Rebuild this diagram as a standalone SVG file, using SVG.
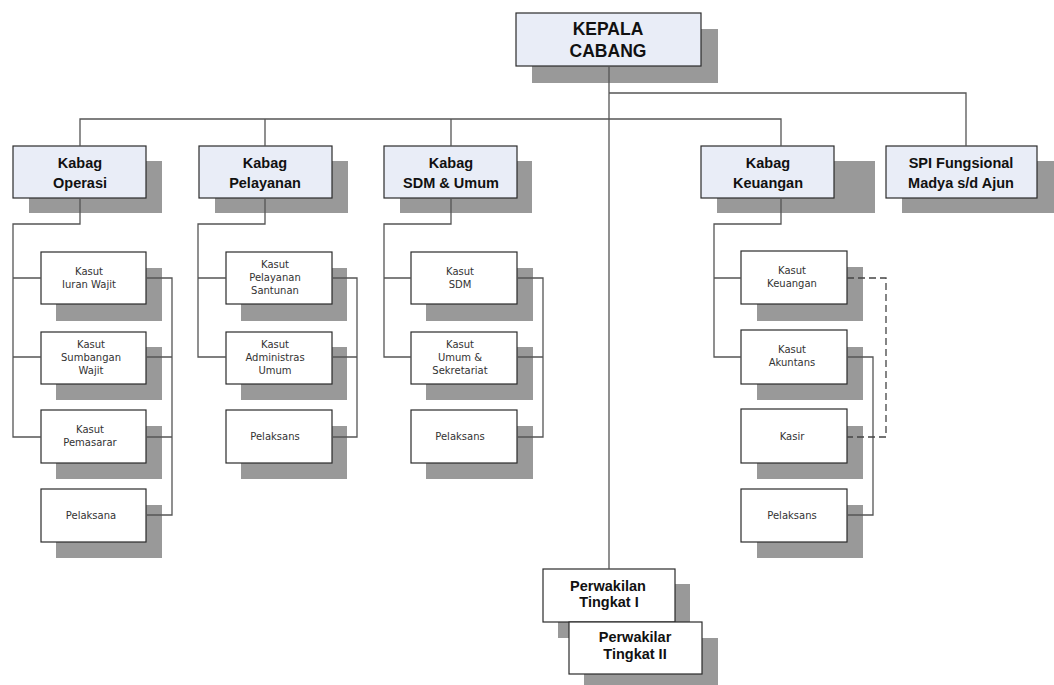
<svg xmlns="http://www.w3.org/2000/svg" width="1054" height="685" viewBox="0 0 1054 685">
<style>
.sh{fill:#999999}
.hd{fill:#e9edf7;stroke:#2b2b2b;stroke-width:1.2}
.bx{fill:#ffffff;stroke:#2b2b2b;stroke-width:1.2}
.t1{font-family:"Liberation Sans",Arial,sans-serif;font-weight:bold;font-size:17.5px;fill:#111;text-anchor:middle}
.t2{font-family:"Liberation Sans",Arial,sans-serif;font-weight:bold;font-size:14.5px;fill:#111;text-anchor:middle}
.t3{font-family:"DejaVu Sans",Verdana,sans-serif;font-size:10px;fill:#333;text-anchor:middle}
.ln{fill:none;stroke:#555;stroke-width:1.3}
.dl{fill:none;stroke:#444;stroke-width:1.3;stroke-dasharray:7 4}
</style>
<rect width="1054" height="685" fill="#fff"/>
<g id="kepala"><rect class="sh" x="532" y="29" width="186" height="54"/><rect class="hd" x="516" y="13" width="185" height="53"/><text class="t1" x="608" y="35">KEPALA</text><text class="t1" x="608" y="57">CABANG</text></g>
<g id="kabag-operasi"><rect class="sh" x="29" y="161" width="133" height="52"/><rect class="hd" x="13" y="146" width="133" height="52"/><text class="t2" x="80" y="168">Kabag</text><text class="t2" x="80" y="188">Operasi</text></g>
<g id="kabag-pelayanan"><rect class="sh" x="215" y="161" width="133" height="52"/><rect class="hd" x="199" y="146" width="133" height="52"/><text class="t2" x="265" y="168">Kabag</text><text class="t2" x="265" y="188">Pelayanan</text></g>
<g id="kabag-sdm"><rect class="sh" x="400" y="161" width="132" height="52"/><rect class="hd" x="384" y="146" width="133" height="52"/><text class="t2" x="451" y="168">Kabag</text><text class="t2" x="451" y="188">SDM &amp; Umum</text></g>
<g id="kabag-keuangan"><rect class="sh" x="717" y="161" width="158" height="52"/><rect class="hd" x="701" y="146" width="133" height="52"/><text class="t2" x="768" y="168">Kabag</text><text class="t2" x="768" y="188">Keuangan</text></g>
<g id="spi"><rect class="sh" x="902" y="161" width="152" height="52"/><rect class="hd" x="886" y="146" width="151" height="52"/><text class="t2" x="961" y="168">SPI Fungsional</text><text class="t2" x="961" y="188">Madya s/d Ajun</text></g>

<g id="op1"><rect class="sh" x="56" y="268" width="106" height="53"/><rect class="bx" x="41" y="252" width="105" height="52"/><text class="t3" x="89" y="275">Kasut</text><text class="t3" x="89" y="288">Iuran Wajit</text></g>
<g id="op2"><rect class="sh" x="56" y="347" width="106" height="53"/><rect class="bx" x="41" y="332" width="105" height="52"/><text class="t3" x="91" y="348">Kasut</text><text class="t3" x="91" y="361">Sumbangan</text><text class="t3" x="91" y="374">Wajit</text></g>
<g id="op3"><rect class="sh" x="56" y="426" width="106" height="53"/><rect class="bx" x="41" y="410" width="105" height="53"/><text class="t3" x="90" y="433">Kasut</text><text class="t3" x="90" y="446">Pemasarar</text></g>
<g id="op4"><rect class="sh" x="56" y="505" width="106" height="53"/><rect class="bx" x="41" y="489" width="105" height="53"/><text class="t3" x="91" y="519">Pelaksana</text></g>

<g id="pl1"><rect class="sh" x="241" y="268" width="106" height="53"/><rect class="bx" x="226" y="252" width="106" height="52"/><text class="t3" x="275" y="268">Kasut</text><text class="t3" x="275" y="281">Pelayanan</text><text class="t3" x="275" y="294">Santunan</text></g>
<g id="pl2"><rect class="sh" x="241" y="347" width="106" height="53"/><rect class="bx" x="226" y="332" width="106" height="52"/><text class="t3" x="275" y="348">Kasut</text><text class="t3" x="275" y="361">Administras</text><text class="t3" x="275" y="374">Umum</text></g>
<g id="pl3"><rect class="sh" x="241" y="426" width="106" height="53"/><rect class="bx" x="226" y="410" width="106" height="53"/><text class="t3" x="275" y="440">Pelaksans</text></g>

<g id="sd1"><rect class="sh" x="426" y="268" width="107" height="53"/><rect class="bx" x="411" y="252" width="106" height="52"/><text class="t3" x="460" y="275">Kasut</text><text class="t3" x="460" y="288">SDM</text></g>
<g id="sd2"><rect class="sh" x="426" y="347" width="107" height="53"/><rect class="bx" x="411" y="332" width="106" height="52"/><text class="t3" x="460" y="348">Kasut</text><text class="t3" x="460" y="361">Umum &amp;</text><text class="t3" x="460" y="374">Sekretariat</text></g>
<g id="sd3"><rect class="sh" x="426" y="426" width="107" height="53"/><rect class="bx" x="411" y="410" width="106" height="53"/><text class="t3" x="460" y="440">Pelaksans</text></g>

<g id="ku1"><rect class="sh" x="757" y="267" width="106" height="54"/><rect class="bx" x="741" y="251" width="106" height="53"/><text class="t3" x="792" y="274">Kasut</text><text class="t3" x="792" y="287">Keuangan</text></g>
<g id="ku2"><rect class="sh" x="757" y="347" width="106" height="53"/><rect class="bx" x="741" y="330" width="106" height="54"/><text class="t3" x="792" y="353">Kasut</text><text class="t3" x="792" y="366">Akuntans</text></g>
<g id="ku3"><rect class="sh" x="757" y="426" width="106" height="53"/><rect class="bx" x="741" y="409" width="106" height="54"/><text class="t3" x="792" y="440">Kasir</text></g>
<g id="ku4"><rect class="sh" x="757" y="505" width="106" height="53"/><rect class="bx" x="741" y="489" width="106" height="53"/><text class="t3" x="792" y="519">Pelaksans</text></g>

<g id="perwakilan1"><rect class="sh" x="558" y="584" width="132" height="54"/><rect class="bx" x="543" y="569" width="132" height="53"/><text class="t2" x="608" y="591">Perwakilan</text><text class="t2" x="609" y="607">Tingkat I</text></g>
<g id="perwakilan2"><rect class="sh" x="584" y="638" width="134" height="47"/><rect class="bx" x="569" y="622" width="133" height="52"/><text class="t2" x="635" y="642">Perwakilar</text><text class="t2" x="635" y="659">Tingkat II</text></g>

<g id="connectors">
<path class="ln" d="M609 66V569M609 93H966V146M80 146V119H781V146M265 119V146M451 119V146"/>
<path class="ln" d="M80 198V224H13V437H41M13 278H41M13 357H41M146 278H172V515H146M146 357H172M146 437H172"/>
<path class="ln" d="M265 198V224H198V357H226M198 278H226M332 278H357V437H332M332 357H357"/>
<path class="ln" d="M451 198V224H384V357H411M384 278H411M517 278H543V437H517M517 357H543"/>
<path class="ln" d="M781 198V224H714V357H741M714 278H741M847 357H873V515H847"/>
<path class="dl" d="M847 278H886V437H847"/>
</g>
</svg>
